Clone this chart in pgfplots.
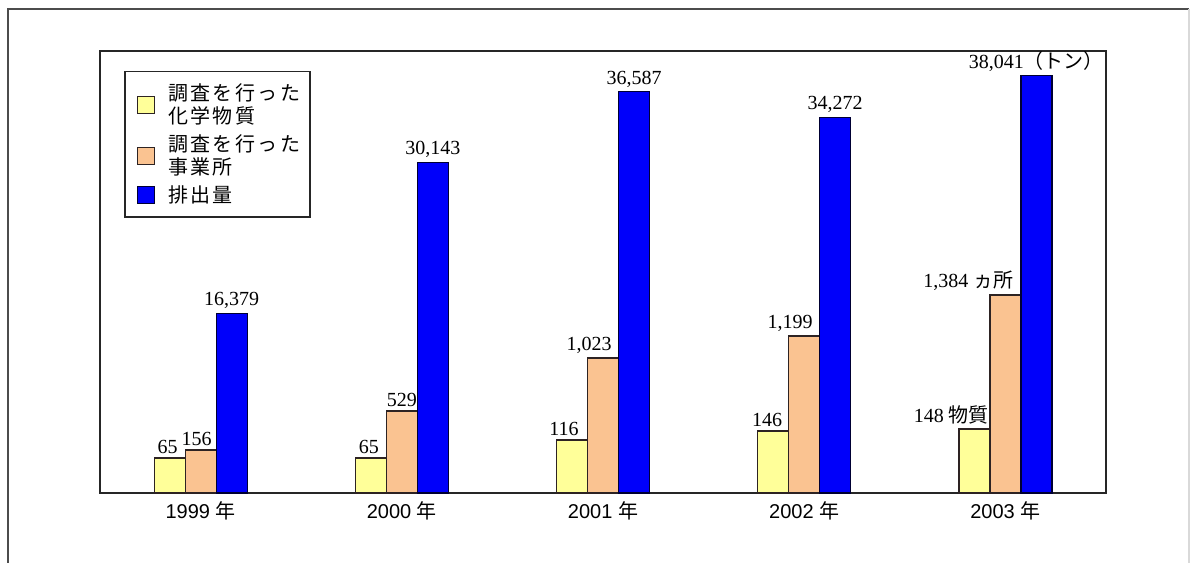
\documentclass[border=0pt]{standalone}
\usepackage{fontspec}
\setmainfont{Liberation Serif}
\newfontfamily\ar{Liberation Sans}
\newfontfamily\jp{Noto Sans CJK JP}
\newfontfamily\jpl[LetterSpace=12]{Noto Sans CJK JP}
\usepackage{pgfplots}
\pgfplotsset{compat=1.18}
\definecolor{cyel}{RGB}{255,255,153}
\definecolor{cora}{RGB}{250,195,145}
\definecolor{cblu}{RGB}{0,0,250}
\definecolor{edge}{RGB}{45,35,35}
\begin{document}
\begin{tikzpicture}
\useasboundingbox (0,0) rectangle (598pt,-281.5pt);
\draw[line width=1pt, color=black!70] (4pt,-281.5pt) -- (4pt,-4.5pt) -- (594.5pt,-4.5pt);
\draw[line width=0.8pt, color=black!15] (594.5pt,-4.5pt) -- (594.5pt,-281.5pt);
\begin{axis}[
  at={(50pt,-246.5pt)}, anchor=south west,
  scale only axis, width=503pt, height=221pt,
  xmin=-0.5, xmax=4.5, ymin=0, ymax=40300,
  ybar=0pt, bar width=15.5pt,
  axis line style={line width=1pt, color=black!85},
  xtick={0,1,2,3,4},
  xticklabels={{\ar 1999 \jp 年},{\ar 2000 \jp 年},{\ar 2001 \jp 年},{\ar 2002 \jp 年},{\ar 2003 \jp 年}},
  xticklabel style={font=\fontsize{10}{12}\selectfont, yshift=-1pt},
  ytick=\empty, major tick length=0pt,
  point meta=explicit symbolic,
  nodes near coords,
  every node near coord/.append style={font=\fontsize{10}{12}\selectfont, inner sep=2pt, color=black},
  every axis plot post/.append style={legend image code/.code={\draw[#1, line width=0.6pt] (3pt,-4.25pt) rectangle (11.5pt,4.25pt); \path (0pt,0pt) (16pt,0pt);}},
  legend style={at={(0.0239,0.955)}, anchor=north west, draw=black!85, line width=0.8pt,
    font=\jpl\fontsize{10}{11.5}\selectfont, cells={align=left, anchor=west}, inner xsep=3pt, inner ysep=4pt},
]
\addplot[fill=cyel, draw=edge, line width=0.6pt] coordinates {
  (0,3190) [{65\kern2pt}] (1,3190) [{65\kern2pt}] (2,4830) [{116\kern8pt}] (3,5650) [{146\kern6pt}] (4,5840) [{148 {\jp 物質}\kern23pt}]
};
\addlegendentry{調査を行った\\化学物質}
\addplot[fill=cora, draw=edge, line width=0.6pt] coordinates {
  (0,3920) [{156\kern4pt}] (1,7480) [529] (2,12310) [{1,023\kern14pt}] (3,14320) [{1,199\kern14pt}] (4,18050) [{1,384 {\jp ヵ所}\kern37pt}]
};
\addlegendentry{調査を行った\\事業所}
\addplot[fill=cblu, draw=black!80!blue, line width=0.6pt] coordinates {
  (0,16379) [{16,379}] (1,30143) [{30,143}] (2,36587) [{36,587}] (3,34272) [{34,272}] (4,38041) [{38,041{\jp （トン）}}]
};
\addlegendentry{排出量}
\end{axis}
\end{tikzpicture}
\end{document}
